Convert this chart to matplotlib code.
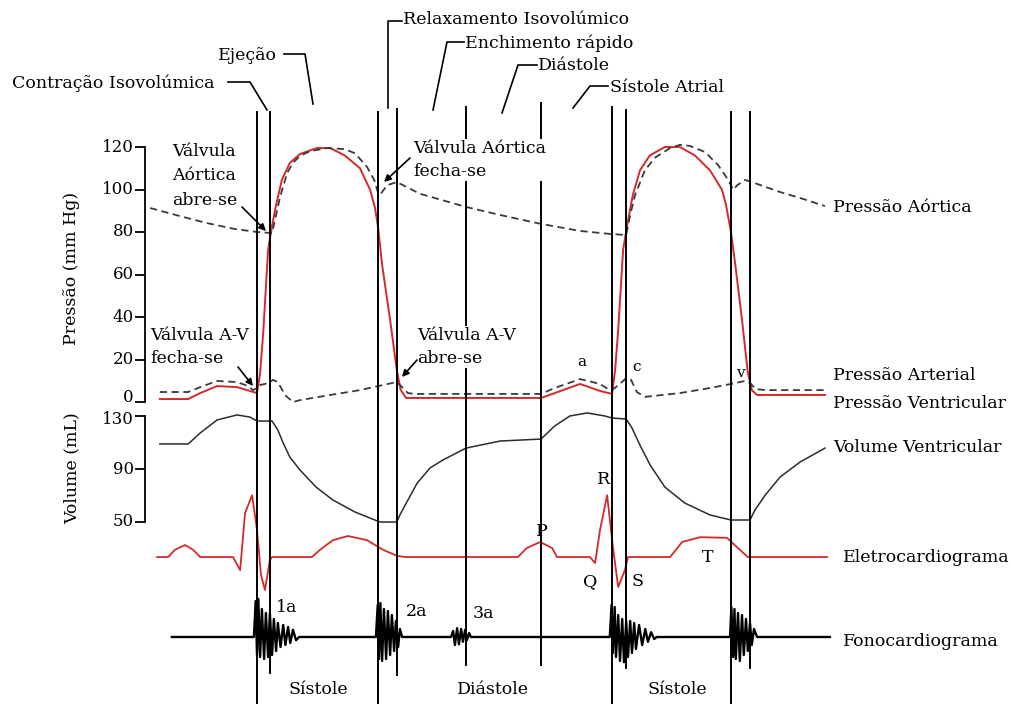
import matplotlib
matplotlib.use('Agg')
import matplotlib.pyplot as plt
import matplotlib.transforms as mtransforms

plt.rcParams['font.family'] = ['DejaVu Serif']
plt.rcParams['font.size'] = 12.5

# time in ms, 0 = start of the isovolumic contraction of the first beat
events_ms = [0, 29, 273, 315, 471, 640, 800, 832, 1068, 1111]

# aortic pressure (mmHg)
aorta_t = [-241, -174, -113, -50, 0, 34, 43, 52, 68, 81, 97, 119, 158, 198, 221, 248, 264, 273, 277,
           293, 315, 367, 471, 548, 640, 728, 800, 832, 841, 852, 874, 897, 931, 953, 976, 1010,
           1039, 1062, 1073, 1082, 1100, 1115, 1179, 1224, 1280]
aorta_p = [91.3, 87.5, 84.2, 81.4, 80, 79.5, 88, 96.5, 107.8, 112.5, 115.8, 118, 119.5, 119, 117,
           110.6, 104.5, 98.4, 97.4, 102, 103.5, 98, 91.8, 88, 83.8, 80.5, 79, 78.6, 88, 97.4, 109,
           115, 119.5, 121, 120.5, 117.6, 111.5, 104.5, 99.8, 102, 104.5, 103.5, 98.8, 96, 92.2]

# ventricular pressure (mmHg)
vent_t = [-219, -155, -128, -90, -45, -16, 0, 7, 14, 25, 34, 43, 56, 74, 97, 135, 165, 198, 232,
          255, 266, 273, 282, 300, 315, 324, 336, 640, 671, 728, 773, 800, 807, 814, 825, 834, 847,
          863, 885, 919, 953, 987, 1021, 1048, 1057, 1068, 1077, 1093, 1106, 1115, 1127, 1280]
vent_p = [1.4, 1.4, 4.2, 7.5, 7, 5.2, 4.2, 13.6, 32.5, 71.5, 83, 92.7, 104.5, 112.5, 116.7, 119.5,
          119.5, 116, 110, 99.8, 91.3, 82, 64.5, 38.6, 15, 5.6, 1.9, 1.9, 4.2, 8.5, 5.2, 3.8, 15, 34,
          71.5, 83, 97.4, 109, 116, 120, 120, 116, 109, 99.8, 92.7, 80, 66, 38.6, 14, 5.6, 3.3, 3.3]

# atrial pressure (mmHg)
atrium_t = [-219, -155, -128, -90, -45, -20, -9, 0, 7, 18, 29, 36, 47, 63, 81, 97, 165, 232, 273,
            315, 327, 340, 356, 640, 671, 728, 773, 791, 800, 818, 832, 843, 856, 874, 953, 1021,
            1068, 1100, 1111, 1124, 1145, 1280]
atrium_p = [4.7, 4.7, 7, 9.9, 9.4, 7.5, 5.6, 6.6, 8, 8.5, 9.4, 10.4, 9.4, 3.3, 0, 0.9, 3.3, 5.6, 7.5,
            9.4, 7, 4.2, 3.8, 3.8, 6.6, 10.8, 8.5, 6.1, 5.6, 8.5, 11.3, 10.4, 4.7, 2.4, 4.2, 6.6,
            8.5, 9.9, 8.9, 6.1, 5.6, 5.6]

# ventricular volume (mL)
volume_t = [-219, -155, -128, -90, -45, -16, 0, 34, 47, 59, 74, 97, 133, 171, 221, 277, 315, 322,
            334, 361, 390, 419, 471, 548, 640, 671, 705, 744, 784, 800, 832, 845, 863, 886, 919,
            964, 1021, 1068, 1111, 1122, 1145, 1179, 1224, 1280]
volume_ml = [108.9, 108.9, 117.2, 127, 130.8, 129.2, 126.2, 126.2, 119.4, 109.6, 99, 89.2, 76.4,
             66.6, 57.5, 50, 50, 55.3, 62.8, 79.4, 90.8, 96.8, 105.8, 111.1, 112.6, 122.5, 130,
             132.3, 130, 128.5, 127.7, 121, 108, 93, 76.4, 64.3, 55.3, 51.5, 51.5, 59, 70.2, 84,
             95.3, 105.8]

# electrocardiogram (mV)
ecg_t = [-225, -200, -185, -162, -144, -128, -54, -38, -27, -11, 0, 9, 18, 29, 34, 124, 142, 171,
         205, 248, 284, 315, 334, 588, 608, 638, 665, 676, 750, 762, 773, 789, 802, 814, 829, 836,
         931, 958, 998, 1059, 1088, 1106, 1285]
ecg_mv = [0, 0, 0.12, 0.2, 0.12, 0, 0, -0.22, 0.73, 1.03, 0.45, -0.3, -0.55, -0.05, 0, 0, 0.12,
          0.28, 0.35, 0.28, 0.12, 0.02, 0, 0, 0.15, 0.25, 0.15, 0, 0, -0.1, 0.45, 1.03, 0.17, -0.5,
          -0.22, 0, 0, 0.25, 0.33, 0.32, 0.12, 0, 0]

# phonocardiogram (arbitrary units): heart sound bursts on a flat baseline
s1a_t = [-7, -3, 0, 3, 7, 11, 16, 20, 25, 29, 34, 38, 43, 47, 53, 59, 64, 70, 75, 81, 88, 95]
s1a_v = [0, 0.9, -0.45, 0.95, -0.5, 0.7, -0.55, 0.6, -0.5, 0.6, -0.45, 0.45, -0.35, 0.35, -0.25,
         0.3, -0.2, 0.25, -0.15, 0.18, -0.08, 0]
s2a_t = [268, 272, 275, 278, 282, 286, 291, 295, 300, 304, 309, 313, 318, 322, 327]
s2a_v = [0, 0.8, -0.55, 0.85, -0.6, 0.7, -0.55, 0.65, -0.45, 0.55, -0.35, 0.4, -0.25, 0.2, 0]
s3a_t = [437, 442, 446, 451, 455, 460, 464, 469, 473, 478, 482]
s3a_v = [0, 0.15, -0.2, 0.22, -0.18, 0.2, -0.12, 0.18, -0.08, 0.1, 0]
s1b_t = [795, 799, 802, 806, 809, 814, 818, 823, 827, 832, 836, 841, 845, 850, 854, 861, 868, 875,
         881, 888, 895, 901]
s1b_v = [0, 0.8, -0.4, 0.75, -0.5, 0.55, -0.6, 0.45, -0.63, 0.4, -0.5, 0.4, -0.4, 0.35, -0.3, 0.3,
         -0.2, 0.2, -0.12, 0.12, -0.05, 0]
s2b_t = [1066, 1069, 1073, 1076, 1079, 1084, 1088, 1093, 1097, 1102, 1106, 1111, 1115, 1120, 1127]
s2b_v = [0, 0.75, -0.5, 0.7, -0.55, 0.6, -0.6, 0.55, -0.45, 0.45, -0.35, 0.35, -0.2, 0.2, 0]
phono_range = [-192, 1291]

pressure_ticks = [0, 20, 40, 60, 80, 100, 120]
volume_ticks = [50, 90, 130]

# ---- layout (pixels of the 1012x704 picture) ----
W, H = 1012, 704
X0 = 257                 # pixel column of t = 0
PX_PER_MS = 355 / 800.0  # one cardiac cycle = 800 ms
XLIM = (-X0 / PX_PER_MS, (W - X0) / PX_PER_MS)
SPINE_T = (145 - X0) / PX_PER_MS

RED = '#d42a2a'
DARK = '#3a3a3a'
DASH = (0, (4, 2.5))

fig = plt.figure(figsize=(W / 100, H / 100), dpi=100)


def band(top, bottom, ylim):
    ax = fig.add_axes([0, 1 - bottom / H, 1, (bottom - top) / H])
    ax.set_xlim(*XLIM)
    ax.set_ylim(*ylim)
    ax.patch.set_visible(False)
    for s in ax.spines.values():
        s.set_visible(False)
    ax.set_xticks([])
    ax.set_yticks([])
    return ax


def left_axis(ax, ticks):
    ax.spines['left'].set_visible(True)
    ax.spines['left'].set_position(('data', SPINE_T))
    ax.spines['left'].set_linewidth(1.3)
    ax.set_yticks(ticks)
    ax.tick_params(axis='y', direction='out', length=7, width=1.3, labelleft=False)


axp = band(147, 402, (0, 120))
left_axis(axp, pressure_ticks)
axv = band(416, 522, (50, 130))
left_axis(axv, volume_ticks)
axe = band(485, 617, (-1, 1.2))
axf = band(597, 677, (-1, 1))

# pressure curves
axp.plot(vent_t, vent_p, color=RED, lw=1.4, clip_on=False)
axp.plot(aorta_t, aorta_p, color=DARK, lw=1.3, ls=DASH, clip_on=False)
axp.plot(atrium_t, atrium_p, color=DARK, lw=1.3, ls=DASH, clip_on=False)
# volume
axv.plot(volume_t, volume_ml, color='#2b2b2b', lw=1.1, clip_on=False)
# ECG
axe.plot(ecg_t, ecg_mv, color=RED, lw=1.3, clip_on=False)
# phonocardiogram
phono_t = [phono_range[0]] + s1a_t + s2a_t + s3a_t + s1b_t + s2b_t + [phono_range[1]]
phono_v = [0] + s1a_v + s2a_v + s3a_v + s1b_v + s2b_v + [0]
axf.plot(phono_t, phono_v, color='black', lw=1.7, clip_on=False)

# ---- overlay in pixel coordinates ----
ov = fig.add_axes([0, 0, 1, 1])
ov.axis('off')
ov.patch.set_visible(False)
ov.set_xlim(0, W)
ov.set_ylim(H, 0)

# tick labels (the 0 and 130 labels sit very close, so they are nudged apart a little)
for ax, ticks, nudge in [(axp, pressure_ticks, {0: 4}), (axv, volume_ticks, {130: -4})]:
    tr = mtransforms.blended_transform_factory(ov.transData, ax.transData)
    for v in ticks:
        ov.text(134, v, str(v), ha='right', va='center', fontsize=12,
                transform=mtransforms.offset_copy(tr, fig=fig, y=nudge.get(v, 0), units='dots'))

# vertical event lines: x in time, y in pixels
event_spans = [(112, 704), (112, 673), (112, 704), (109, 675), (107, 665), (103, 665),
               (107, 704), (110, 668), (112, 704), (112, 668)]
blend = mtransforms.blended_transform_factory(axp.transData, ov.transData)
for t, (y0, y1) in zip(events_ms, event_spans):
    ov.plot([t, t], [y0, y1], transform=blend, color='black', lw=1.4, zorder=2)

# phase labels with leader lines
phases = [
    ('Contração Isovolúmica', 12, 83, [(228, 250, 267), (82, 82, 110)]),
    ('Ejeção', 218, 55, [(284, 305, 313), (54, 54, 104)]),
    ('Relaxamento Isovolúmico', 403, 20, [(402, 388, 388), (21, 21, 108)]),
    ('Enchimento rápido', 465, 43, [(464, 447, 433), (42, 42, 110)]),
    ('Diástole', 538, 65, [(537, 518, 502), (65, 65, 113)]),
    ('Sístole Atrial', 610, 87, [(608, 590, 573), (86, 86, 108)]),
]
for label, x, y, (lx, ly) in phases:
    ov.text(x, y, label, ha='left', va='center')
    ov.plot(lx, ly, color='black', lw=1.2)

# curve names on the right
for label, x, y in [('Pressão Aórtica', 833, 207), ('Pressão Arterial', 833, 375),
                    ('Pressão Ventricular', 833, 403), ('Volume Ventricular', 833, 448),
                    ('Eletrocardiograma', 843, 557), ('Fonocardiograma', 843, 641)]:
    ov.text(x, y, label, ha='left', va='center')

# axis titles
ov.text(72, 268, 'Pressão (mm Hg)', rotation=90, ha='center', va='center')
ov.text(72, 468, 'Volume (mL)', rotation=90, ha='center', va='center')

# valve annotations
white = dict(facecolor='white', edgecolor='none', pad=1)
ov.text(172, 176, 'Válvula\nAórtica\nabre-se', ha='left', va='center', linespacing=1.55,
        bbox=white, zorder=3)
ov.text(413, 160, 'Válvula Aórtica\nfecha-se', ha='left', va='center', linespacing=1.45,
        bbox=white, zorder=3)
ov.text(150, 347, 'Válvula A-V\nfecha-se', ha='left', va='center', linespacing=1.45, zorder=3)
ov.text(417, 347, 'Válvula A-V\nabre-se', ha='left', va='center', linespacing=1.45,
        bbox=white, zorder=3)
arrow = dict(arrowstyle='-|>', color='black', lw=1.2, mutation_scale=10, shrinkA=0, shrinkB=0)
for tail, head in [((242, 207), (266, 231)), ((410, 158), (384, 182)),
                   ((238, 367), (253, 386)), ((417, 360), (402, 377))]:
    ov.annotate('', xy=head, xytext=tail, arrowprops=arrow, zorder=4)

# wave letters
for label, x, y, fs in [('a', 582, 362, 11), ('c', 637, 367, 11), ('v', 740, 373, 11),
                        ('R', 604, 480, 12.5), ('P', 542, 531, 12.5), ('Q', 590, 582, 12.5),
                        ('S', 638, 582, 12.5), ('T', 708, 557, 12.5),
                        ('1a', 287, 608, 12.5), ('2a', 417, 612, 12.5), ('3a', 483, 614, 12.5)]:
    ov.text(x, y, label, ha='center', va='center', fontsize=fs)

# systole / diastole at the bottom
for label, x in [('Sístole', 318), ('Diástole', 493), ('Sístole', 677)]:
    ov.text(x, 690, label, ha='center', va='center')

fig.savefig('out.png', dpi=100)
